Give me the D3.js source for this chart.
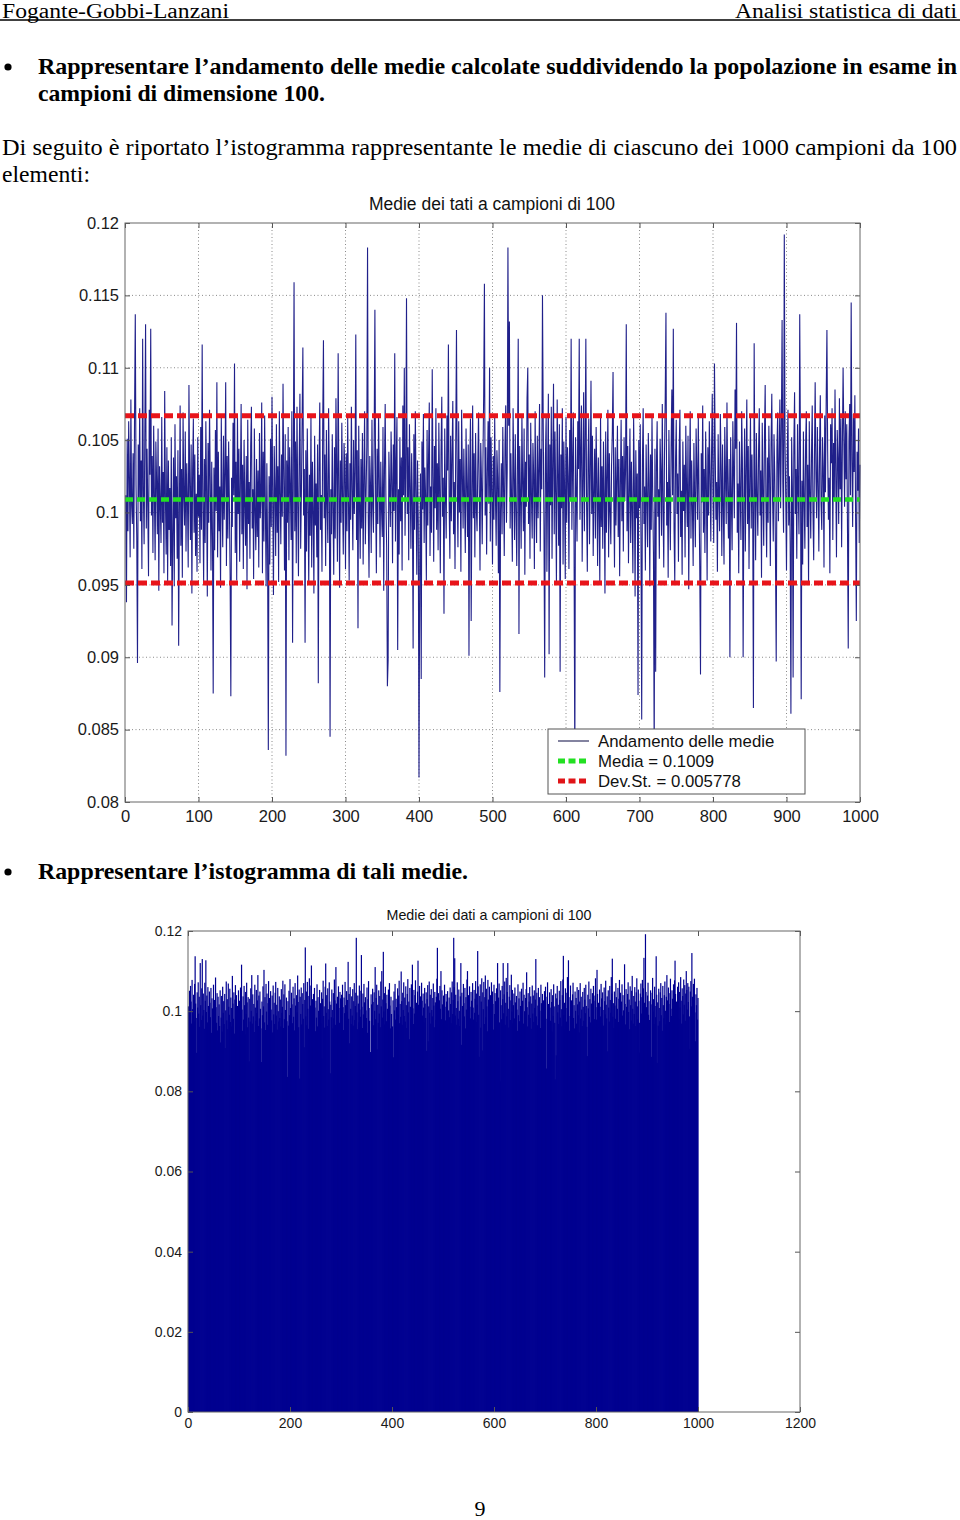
<!DOCTYPE html>
<html>
<head>
<meta charset="utf-8">
<script src="https://cdn.jsdelivr.net/npm/d3@7"></script>
<style>
body { margin: 0; background: #fff; }
svg { display: block; }
</style>
</head>
<body>
<div id="page"></div>
<script>
// medie dei 1000 campioni (indice 1..1000)
const medie = [
.1012,.0938,.1051,.0987,.1063,.1024,.0969,.1078,.1005,.0992,.1041,.0975,.1068,.1137,.1019,.0983,.0896,.1047,.1009,.1072,
.0994,.1036,.0961,.1120,.1015,.0978,.1057,.1130,.0989,.1044,.1003,.0956,.1071,.1026,.1127,.0998,.1039,.0972,.1060,.1013,
.0967,.1049,.1021,.0985,.1058,.0946,.1032,.1007,.0979,.1066,.0993,.1028,.0958,.1084,.1010,.0971,.1045,.0952,.1036,.0988,
.1017,.0963,.1052,.0922,.0984,.1038,.0949,.1061,.0996,.1025,.0968,.1043,.0908,.1002,.1074,.0977,.1030,.0955,.1069,.1011,
.0991,.1056,.0973,.1034,.1008,.0962,.1088,.1019,.0981,.1047,.0944,.1029,.1065,.0986,.1040,.0970,.1013,.0959,.1052,.0997,
.1026,.0965,.1059,.0988,.1116,.1004,.0951,.1037,.0979,.1063,.1015,.0942,.1048,.0993,.1071,.1022,.0960,.1035,.0984,.0875,
.1031,.0974,.1057,.1001,.1090,.0969,.1042,.0987,.1018,.0948,.1066,.1009,.0976,.1053,.0995,.1027,.1090,.0963,.1039,.0982,
.1049,.1006,.0957,.0873,.1024,.0990,.1062,.1012,.1103,.0972,.1035,.0953,.1068,.0999,.1044,.0966,.1020,.1075,.0985,.1033,
.0961,.1050,.1004,.0977,.1039,.0947,.1064,.0992,.1021,.0968,.1046,.1073,.0989,.1016,.0954,.1058,.1000,.0974,.1037,.0983,
.1029,.0962,.1055,.0996,.1011,.1076,.0958,.1042,.0980,.1067,.1003,.0949,.1034,.0975,.0836,.1025,.0964,.1051,.0990,.1080,
.1008,.0943,.1046,.1017,.0970,.1061,.0986,.1032,.0952,.1070,.1014,.0978,.1040,.0997,.1089,.1023,.0960,.1054,.0832,.1036,
.0993,.1059,.0967,.1045,.1018,.0981,.1070,.0910,.1028,.1159,.0987,.1049,.0965,.1073,.1006,.0956,.1038,.1082,.0975,.1014,
.1064,.1114,.0998,.1030,.0910,.1043,.0973,.1058,.1009,.0950,.1026,.0984,.1067,.0962,.1035,.1001,.0944,.1053,.0991,.1020,
.0969,.1047,.0882,.1031,.1076,.0988,.1012,.0959,.1061,.1119,.0996,.1040,.0963,.1057,.1005,.0979,.1072,.1024,.0845,.1016,
.0985,.1054,.1003,.0957,.1045,.0982,.1079,.1027,.0966,.1110,.1019,.0948,.1036,.0993,.1062,.1008,.0971,.1048,.1032,.0961,
.1041,.0987,.1066,.1010,.0953,.1034,.0995,.1073,.1015,.0974,.1050,.0999,.1028,.1123,.0981,.1043,.0920,.1060,.1006,.0968,
.1037,.0989,.1055,.0964,.1025,.1070,.0978,.1013,.1046,.1183,.0997,.0955,.1039,.1019,.0972,.1064,.1004,.0986,.1051,.1140,
.1011,.0958,.1044,.0992,.1068,.1022,.0969,.1035,.1002,.0983,.1059,.0946,.1030,.1075,.1008,.0976,.0880,.0898,.1042,.1017,
.0990,.1056,.1023,.0965,.1047,.1001,.1110,.0980,.1033,.1066,.0905,.1016,.0971,.1052,.0994,.1038,.0960,.1074,.1012,.1100,
.0984,.1029,.1148,.0999,.1045,.0967,.1061,.1020,.0975,.1041,.1006,.0906,.1054,.0988,.1070,.1014,.0957,.1036,.0993,.0817,
.0962,.1027,.0885,.1049,.1002,.1068,.0979,.1031,.1010,.0953,.1057,.0991,.1039,.1076,.0970,.1018,.0986,.1099,.1025,.0966,
.1046,.1003,.1072,.0988,.1034,.0974,.1062,.1015,.0958,.1043,.1080,.0997,.1024,.0930,.1058,.1011,.0982,.1067,.1029,.1116,
.1007,.0968,.1053,.0994,.1040,.1077,.0985,.1021,.0961,.1049,.1126,.1016,.0976,.1063,.1000,.1037,.0959,.1071,.1026,.0989,
.1044,.1009,.0972,.1058,.1019,.0983,.1047,.0901,.1030,.1065,.0925,.1012,.1074,.0996,.1041,.0969,.1055,.1003,.0987,.1033,
.1069,.1014,.0960,.1048,.1022,.0978,.1036,.1081,.1158,.0998,.1045,.0971,.1027,.1063,.1006,.1100,.0980,.1052,.1017,.0964,
.1039,.0995,.1066,.1011,.0977,.1043,.1024,.0958,.1050,.0876,.1002,.1034,.0985,.1059,.1018,.0970,.1047,.1074,.0993,.1028,
.1183,.1060,.1132,.0989,.1041,.1008,.0966,.1072,.1025,.0981,.1054,.1001,.0963,.1037,.1120,.0916,.1046,.1013,.0975,.1068,
.1020,.0987,.1058,.0957,.1035,.1004,.1079,.1100,.0992,.1040,.0968,.1062,.1011,.0982,.1048,.1026,.0961,.1070,.1009,.0979,
.1053,.0996,.1031,.1075,.0973,.1044,.1016,.1150,.1062,.0991,.0886,.1038,.1067,.0959,.1024,.1082,.0902,.1047,.1005,.1073,
.0968,.1035,.1089,.0985,.1056,.1012,.0950,.1078,.1029,.0977,.1061,.0890,.1040,.1003,.1072,.0964,.1049,.1018,.0954,.1066,
.0993,.1045,.1025,.0961,.1057,.1010,.1120,.0988,.1034,.1069,.0972,.0825,.1052,.1015,.0980,.1063,.1030,.1120,.0995,.1042,
.1074,.0966,.1021,.1083,.0987,.1048,.1120,.1006,.0959,.1036,.1065,.0978,.1027,.1091,.0999,.1053,.0970,.1015,.1044,.0982,
.1059,.1022,.0963,.1038,.1004,.0951,.1067,.0990,.1032,.0975,.1049,.1013,.0944,.1056,.0986,.1026,.1071,.0969,.1041,.1000,
.0978,.1033,.1055,.1097,.1010,.0962,.1045,.0991,.1024,.1060,.0983,.1037,.0956,.1019,.1064,.0994,.1039,.0973,.1052,.1008,
.1029,.1130,.0987,.1046,.0965,.1014,.1058,.0979,.1035,.1001,.0958,.1066,.1020,.0942,.1043,.0996,.1027,.0874,.1050,.1003,
.1061,.0981,.0857,.1036,.1072,.0992,.1018,.0960,.1047,.1009,.0976,.1055,.1023,.0949,.1040,.0988,.1067,.1012,.0971,.0830,
.1044,.0890,.1032,.1063,.0997,.1016,.0968,.1051,.1028,.0984,.1075,.1005,.0962,.1040,.1079,.1138,.0991,.1021,.0955,.1057,
.1008,.0974,.1046,.1085,.1012,.1127,.0988,.0951,.1035,.1064,.0999,.1027,.0966,.1042,.1071,.0983,.1015,.0957,.1049,.1001,
.1033,.0969,.1060,.1017,.0990,.1053,.0947,.1024,.1070,.0982,.1036,.1004,.0963,.1048,.1011,.0976,.1058,.1029,.0995,.1066,
.1013,.0961,.0888,.1041,.1007,.1074,.0986,.1030,.0972,.1056,.1019,.0953,.1045,.0998,.1063,.1026,.0980,.1039,.1082,.1010,
.0979,.1103,.1043,.0995,.1021,.0959,.1054,.1011,.0987,.1068,.1032,.0970,.1047,.1003,.0964,.1059,.1025,.0992,.1076,.1016,
.0982,.1037,.0900,.1052,.1009,.0974,.1063,.1028,.0996,.1085,.1044,.1131,.0986,.1020,.0958,.1049,.1014,.0981,.1070,.1035,
.0900,.1006,.1058,.0973,.1031,.1078,.0992,.1046,.0961,.1024,.1067,.0989,.1040,.1002,.0865,.1117,.1018,.0967,.1055,.1011,
.0984,.1043,.1072,.0998,.1029,.0955,.1062,.1015,.0977,.1051,.1088,.1006,.0969,.1038,.0993,.1060,.1024,.0963,.1047,.1082,
.1012,.0980,.1054,.1026,.0971,.0897,.1044,.1069,.0994,.1035,.1078,.1003,.1057,.1133,.1021,.0986,.1192,.1048,.1010,.0960,
.1039,.1071,.0991,.1025,.0978,.0861,.1052,.1017,.0886,.1046,.1083,.0999,.1030,.0968,.1061,.1013,.0985,.1137,.1041,.0871,
.1022,.0964,.1056,.1008,.0975,.1047,.1070,.0990,.1033,.0951,.1063,.1015,.0982,.1040,.1074,.1001,.0967,.1036,.1090,.1027,
.0996,.1059,.1018,.0973,.1045,.1081,.1006,.0988,.1052,.1031,.0962,.1067,.1014,.1077,.1126,.1043,.0995,.1024,.0958,.1061,
.1034,.1072,.0981,.1048,.1009,.1085,.1026,.0969,.1057,.1038,.0992,.1079,.1016,.1065,.0976,.1044,.1100,.1053,.1004,.1070,
.1023,.1061,.0987,.0906,.1049,.1075,.1012,.1145,.1036,.0990,.1068,.1028,.1081,.0997,.0925,.1042,.1015,.1058,.0979,.1033
];
const mediaValue = 0.1009;
const devStValue = 0.005778;

const xTicks1 = [0, 100, 200, 300, 400, 500, 600, 700, 800, 900, 1000];
const xTickLabels1 = ["0", "100", "200", "300", "400", "500", "600", "700", "800", "900", "1000"];
const yTicks1 = [0.08, 0.085, 0.09, 0.095, 0.1, 0.105, 0.11, 0.115, 0.12];
const yTickLabels1 = ["0.08", "0.085", "0.09", "0.095", "0.1", "0.105", "0.11", "0.115", "0.12"];
const legendLabels = ["Andamento delle medie", "Media = 0.1009", "Dev.St. = 0.005778"];

const xTicks2 = [0, 200, 400, 600, 800, 1000, 1200];
const xTickLabels2 = ["0", "200", "400", "600", "800", "1000", "1200"];
const yTicks2 = [0, 0.02, 0.04, 0.06, 0.08, 0.1, 0.12];
const yTickLabels2 = ["0", "0.02", "0.04", "0.06", "0.08", "0.1", "0.12"];

const serif = "'Liberation Serif', 'Times New Roman', serif";
const sans = "'Liberation Sans', Arial, sans-serif";

const svg = d3.select("#page").append("svg")
    .attr("width", 960)
    .attr("height", 1520);

// ---- testo della pagina
function line(txt, x, y, size, opts) {
    opts = opts || {};
    const t = svg.append("text")
        .attr("x", x).attr("y", y)
        .attr("font-family", serif)
        .attr("font-size", size)
        .attr("fill", "#000")
        .text(txt);
    if (opts.bold) t.attr("font-weight", "bold");
    if (opts.anchor) t.attr("text-anchor", opts.anchor);
    if (opts.len) t.attr("textLength", opts.len).attr("lengthAdjust", "spacingAndGlyphs");
    return t;
}
line("Fogante-Gobbi-Lanzani", 2, 18, 20.5, {len: 227});
line("Analisi statistica di dati", 957, 18, 20.5, {anchor: "end", len: 222});
svg.append("line").attr("x1", 0).attr("x2", 960).attr("y1", 20).attr("y2", 20)
    .attr("stroke", "#000").attr("stroke-width", 1.3);

svg.append("circle").attr("cx", 8).attr("cy", 67).attr("r", 3.6).attr("fill", "#000");
line("Rappresentare l’andamento delle medie calcolate suddividendo la popolazione in esame in", 38, 74, 22.5, {bold: true, len: 919});
line("campioni di dimensione 100.", 38, 101, 22.5, {bold: true, len: 287});
line("Di seguito è riportato l’istogramma rappresentante le medie di ciascuno dei 1000 campioni da 100", 2, 155, 22.5, {len: 955});
line("elementi:", 2, 182, 22.5, {len: 88});
svg.append("circle").attr("cx", 8).attr("cy", 872).attr("r", 3.6).attr("fill", "#000");
line("Rappresentare l’istogramma di tali medie.", 38, 879, 22.5, {bold: true, len: 430});
line("9", 480, 1516, 22, {anchor: "middle"});

// ---- assi stile MATLAB (tacche verso l'interno su tutti i lati)
function boxAxes(g, x, y, xt, xl, yt, yl, fs, padX) {
    const [x0, x1] = x.range(), [yb, yt0] = y.range();
    const style = sel => {
        sel.select(".domain").remove();
        sel.selectAll(".tick line").attr("stroke", "#555");
        sel.selectAll(".tick text").attr("fill", "#1a1a1a");
        sel.attr("font-family", sans).attr("font-size", fs);
    };
    g.append("g").attr("transform", `translate(0,${yb})`)
        .call(d3.axisBottom(x).tickValues(xt).tickFormat((d, i) => xl[i]).tickSize(-5).tickPadding(padX))
        .call(style);
    g.append("g").attr("transform", `translate(0,${yt0})`)
        .call(d3.axisTop(x).tickValues(xt).tickFormat("").tickSize(-5))
        .call(style);
    g.append("g").attr("transform", `translate(${x0},0)`)
        .call(d3.axisLeft(y).tickValues(yt).tickFormat((d, i) => yl[i]).tickSize(-5).tickPadding(6))
        .call(style);
    g.append("g").attr("transform", `translate(${x1},0)`)
        .call(d3.axisRight(y).tickValues(yt).tickFormat("").tickSize(-5))
        .call(style);
    g.append("rect")
        .attr("x", x0).attr("y", yt0)
        .attr("width", x1 - x0).attr("height", yb - yt0)
        .attr("fill", "none").attr("stroke", "#666").attr("stroke-width", 1);
}

// ---- grafico 1: andamento delle medie
const x1 = d3.scaleLinear().domain([0, 1000]).range([125, 860]);
const y1 = d3.scaleLinear().domain([0.08, 0.12]).range([802, 223]);
const g1 = svg.append("g");

g1.append("text")
    .attr("x", 492).attr("y", 210)
    .attr("text-anchor", "middle")
    .attr("font-family", sans).attr("font-size", 17.5)
    .attr("fill", "#111")
    .text("Medie dei tati a campioni di 100");

// griglia
g1.selectAll(".vgrid").data(xTicks1.slice(1, -1)).enter().append("line")
    .attr("x1", d => x1(d)).attr("x2", d => x1(d))
    .attr("y1", y1(0.12)).attr("y2", y1(0.08))
    .attr("stroke", "#8a8a8a").attr("stroke-dasharray", "1,2.5");
g1.selectAll(".hgrid").data(yTicks1.slice(1, -1)).enter().append("line")
    .attr("x1", x1(0)).attr("x2", x1(1000))
    .attr("y1", d => y1(d)).attr("y2", d => y1(d))
    .attr("stroke", "#8a8a8a").attr("stroke-dasharray", "1,2.5");

g1.append("path")
    .datum(medie)
    .attr("fill", "none")
    .attr("stroke", "#20208a")
    .attr("stroke-width", 1.1)
    .attr("d", d3.line().x((d, i) => x1(i + 1)).y(d => y1(d)));

// media e deviazione standard
g1.append("line")
    .attr("x1", x1(0)).attr("x2", x1(1000))
    .attr("y1", y1(mediaValue)).attr("y2", y1(mediaValue))
    .attr("stroke", "#22e022").attr("stroke-width", 4.5).attr("stroke-dasharray", "8,4");
[mediaValue + devStValue, mediaValue - devStValue].forEach(v => {
    g1.append("line")
        .attr("x1", x1(0)).attr("x2", x1(1000))
        .attr("y1", y1(v)).attr("y2", y1(v))
        .attr("stroke", "#e8141a").attr("stroke-width", 5).attr("stroke-dasharray", "9,4");
});

boxAxes(g1, x1, y1, xTicks1, xTickLabels1, yTicks1, yTickLabels1, 16.5, 8);

// legenda
const leg = g1.append("g").attr("transform", "translate(548,729)");
leg.append("rect").attr("width", 257).attr("height", 65)
    .attr("fill", "#fff").attr("stroke", "#555");
const legStyles = [
    {stroke: "#5a5a80", w: 1.5, dash: null},
    {stroke: "#22e022", w: 5, dash: "7,3.5"},
    {stroke: "#e01418", w: 5, dash: "7,3.5"}
];
legendLabels.forEach((lab, i) => {
    const cy = 12 + i * 20;
    const l = leg.append("line")
        .attr("x1", 10).attr("x2", 41).attr("y1", cy).attr("y2", cy)
        .attr("stroke", legStyles[i].stroke).attr("stroke-width", legStyles[i].w);
    if (legStyles[i].dash) l.attr("stroke-dasharray", legStyles[i].dash);
    leg.append("text")
        .attr("x", 50).attr("y", cy + 6)
        .attr("font-family", sans).attr("font-size", 16.8)
        .attr("fill", "#111")
        .text(lab);
});

// ---- grafico 2: istogramma delle medie
const x2 = d3.scaleLinear().domain([0, 1200]).range([188, 800]);
const y2 = d3.scaleLinear().domain([0, 0.12]).range([1412, 931]);
const g2 = svg.append("g");

g2.append("text")
    .attr("x", 489).attr("y", 920)
    .attr("text-anchor", "middle")
    .attr("font-family", sans).attr("font-size", 14.3)
    .attr("fill", "#111")
    .text("Medie dei dati a campioni di 100");

g2.selectAll(".bar").data(medie).enter().append("rect")
    .attr("class", "bar")
    .attr("x", (d, i) => x2(i + 1) - 0.6)
    .attr("width", 1.2)
    .attr("y", d => y2(d))
    .attr("height", d => y2(0) - y2(d))
    .attr("fill", "#000090");

boxAxes(g2, x2, y2, xTicks2, xTickLabels2, yTicks2, yTickLabels2, 14, 6);
</script>
</body>
</html>
